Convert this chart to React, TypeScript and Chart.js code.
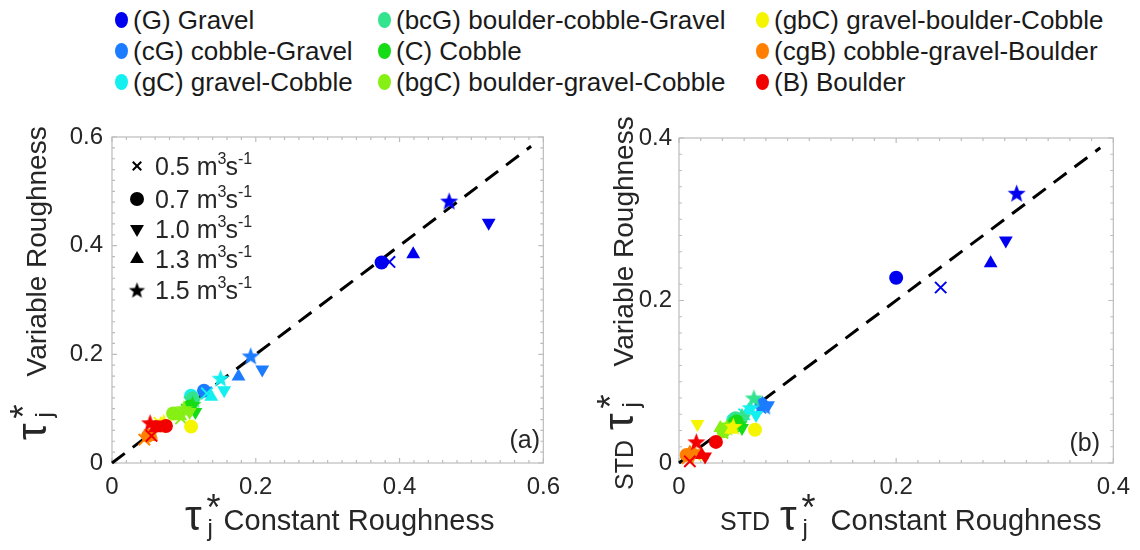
import React, { useEffect, useRef } from 'react';
import { Chart, registerables } from 'chart.js';
import { drawPoint } from 'chart.js/helpers';

Chart.register(...registerables);

const FONT = "'Liberation Sans', Arial, Helvetica, sans-serif";
const TEXT = '#262626';

// Bed material classes (legend order) and their colours
const categories = [
  '(G) Gravel',
  '(cG) cobble-Gravel',
  '(gC) gravel-Cobble',
  '(bcG) boulder-cobble-Gravel',
  '(C) Cobble',
  '(bgC) boulder-gravel-Cobble',
  '(gbC) gravel-boulder-Cobble',
  '(cgB) cobble-gravel-Boulder',
  '(B) Boulder',
];
const categoryColors = ['#0000f0', '#1c7cff', '#14f0f0', '#33e38e', '#16dc16', '#86f014', '#f5f500', '#ff8000', '#f20000'];

// Discharges; one marker per discharge: ×, ●, ▼, ▲, ★
const flowRates = ['0.5', '0.7', '1.0', '1.3', '1.5'];

// (a) mean τ*_j — constant roughness (x) vs variable roughness (y); rows = categories, cols = flow rates
const meanConstant = [
  [0.386, 0.375, 0.524, 0.419, 0.469],
  [0.131, 0.128, 0.209, 0.176, 0.193],
  [0.132, 0.110, 0.156, 0.138, 0.151],
  [0.108, 0.112, 0.113, 0.105, 0.114],
  [0.104, 0.108, 0.116, 0.106, 0.112],
  [0.096, 0.085, 0.108, 0.095, 0.100],
  [0.066, 0.110, 0.070, 0.068, 0.072],
  [0.045, 0.050, 0.055, 0.052, 0.056],
  [0.055, 0.075, 0.068, 0.060, 0.053],
];
const meanVariable = [
  [0.370, 0.369, 0.442, 0.384, 0.482],
  [0.130, 0.133, 0.172, 0.159, 0.197],
  [0.128, 0.124, 0.134, 0.122, 0.156],
  [0.112, 0.119, 0.108, 0.104, 0.116],
  [0.098, 0.104, 0.094, 0.100, 0.108],
  [0.082, 0.091, 0.094, 0.086, 0.100],
  [0.074, 0.067, 0.070, 0.072, 0.075],
  [0.043, 0.050, 0.055, 0.048, 0.058],
  [0.050, 0.068, 0.071, 0.064, 0.074],
];

// (b) standard deviation of τ*_j — constant roughness (x) vs variable roughness (y)
const stdConstant = [
  [0.241, 0.200, 0.301, 0.287, 0.311],
  [0.075, 0.076, 0.082, 0.077, 0.079],
  [0.060, 0.050, 0.071, 0.064, 0.066],
  [0.055, 0.052, 0.060, 0.058, 0.069],
  [0.050, 0.053, 0.058, 0.047, 0.055],
  [0.040, 0.041, 0.045, 0.038, 0.044],
  [0.015, 0.070, 0.017, 0.048, 0.050],
  [0.008, 0.007, 0.012, 0.010, 0.014],
  [0.010, 0.034, 0.024, 0.021, 0.016],
];
const stdVariable = [
  [0.216, 0.228, 0.274, 0.246, 0.332],
  [0.068, 0.072, 0.071, 0.073, 0.070],
  [0.060, 0.053, 0.059, 0.065, 0.068],
  [0.050, 0.055, 0.055, 0.058, 0.080],
  [0.045, 0.051, 0.043, 0.047, 0.048],
  [0.037, 0.039, 0.045, 0.043, 0.044],
  [0.010, 0.041, 0.048, 0.041, 0.045],
  [0.006, 0.010, 0.008, 0.013, 0.014],
  [0.002, 0.026, 0.008, 0.010, 0.026],
];

// Axis limits and 1:1 reference line extent
const axisMaxA = 0.6;
const axisMaxB = 0.4;
const lineEndA = 0.583;
const lineEndB = 0.388;
const majorStep = 0.2;
const minorStep = 0.02;

function makeStar(color: string, outer = 9.5, inner = 4): HTMLCanvasElement {
  const size = Math.ceil(outer * 2 + 2);
  const c = document.createElement('canvas');
  c.width = size;
  c.height = size;
  const g = c.getContext('2d')!;
  g.fillStyle = color;
  g.beginPath();
  for (let k = 0; k < 10; k++) {
    const r = k % 2 === 0 ? outer : inner;
    const a = -Math.PI / 2 + (k * Math.PI) / 5;
    const px = size / 2 + r * Math.cos(a);
    const py = size / 2 + r * Math.sin(a) + 0.8;
    if (k === 0) g.moveTo(px, py);
    else g.lineTo(px, py);
  }
  g.closePath();
  g.fill();
  return c;
}

const markerRadius = [8, 7, 8, 8, 10];
const markerRotation = [0, 0, 180, 0, 0];
const markerBorder = [2, 0, 0, 0, 0];

function drawTauTitle(
  ctx: CanvasRenderingContext2D,
  x: number,
  y: number,
  rotated: boolean,
  prefix: string,
  suffix: string,
  extraGap: number,
  suffixSize: number,
) {
  ctx.save();
  ctx.translate(x, y);
  if (rotated) ctx.rotate(-Math.PI / 2);
  ctx.fillStyle = TEXT;
  ctx.textAlign = 'left';
  ctx.textBaseline = 'alphabetic';
  let u = 0;
  if (prefix) {
    ctx.font = `25px ${FONT}`;
    ctx.fillText(prefix, 0, 0);
    u += ctx.measureText(prefix).width + 10;
  }
  ctx.font = `42px ${FONT}`;
  ctx.fillText('τ', u, 0);
  u += ctx.measureText('τ').width + 5;
  ctx.font = `36px ${FONT}`;
  ctx.fillText('*', u, -10);
  ctx.font = `24px ${FONT}`;
  ctx.fillText('j', u + 1, 6);
  u += 17 + extraGap;
  ctx.font = `${suffixSize}px ${FONT}`;
  ctx.fillText(suffix, u, 0);
  ctx.restore();
}

interface TitleSpec {
  x: number;
  y: number;
  prefix: string;
  gap: number;
  size: number;
}

interface PanelSpec {
  xs: number[][];
  ys: number[][];
  max: number;
  lineEnd: number;
  area: { left: number; right: number; top: number; bottom: number };
  width: number;
  height: number;
  yLabelPad: number;
  tag: string;
  tagX: number;
  tagY: number;
  xTitle: TitleSpec;
  yTitle: TitleSpec;
  flowLegend: boolean;
  stars: HTMLCanvasElement[];
  blackStar: HTMLCanvasElement;
}

function buildConfig(p: PanelSpec): any {
  const tickFmt = (v: number | string) => {
    const n = Number(v);
    return Math.abs(n) < 1e-9 ? '0' : n.toFixed(1);
  };

  const datasets: any[] = categories.map((name, i) => ({
    type: 'scatter',
    label: name,
    data: p.xs[i].map((x, k) => ({ x, y: p.ys[i][k] })),
    pointStyle: ['crossRot', 'circle', 'triangle', 'triangle', p.stars[i]],
    pointRotation: markerRotation,
    pointRadius: markerRadius,
    pointBorderWidth: markerBorder,
    pointBackgroundColor: categoryColors[i],
    pointBorderColor: categoryColors[i],
    order: categories.length - i,
    clip: false,
  }));

  datasets.push({
    type: 'line',
    label: '1:1',
    data: [
      { x: 0, y: 0 },
      { x: p.lineEnd, y: p.lineEnd },
    ],
    borderColor: '#000000',
    borderWidth: 3,
    borderDash: [16, 10],
    pointRadius: 0,
    showLine: true,
    fill: false,
    order: 100,
    clip: false,
  });

  const framePlugin = {
    id: 'frame',
    beforeDatasetsDraw(chart: any) {
      const { ctx, chartArea } = chart;
      const { left, right, top, bottom } = chartArea;
      const sx = chart.scales.x;
      const sy = chart.scales.y;
      ctx.save();
      ctx.strokeStyle = '#bcbcbc';
      ctx.lineWidth = 1.2;
      ctx.strokeRect(left, top, right - left, bottom - top);
      ctx.beginPath();
      const n = Math.round(p.max / minorStep);
      for (let k = 0; k <= n; k++) {
        const v = k * minorStep;
        const major = k % Math.round(majorStep / minorStep) === 0;
        const len = major ? 5 : 3;
        const px = sx.getPixelForValue(v);
        ctx.moveTo(px, bottom);
        ctx.lineTo(px, bottom - len);
        ctx.moveTo(px, top);
        ctx.lineTo(px, top + len);
        const py = sy.getPixelForValue(v);
        ctx.moveTo(left, py);
        ctx.lineTo(left + len, py);
        ctx.moveTo(right, py);
        ctx.lineTo(right - len, py);
      }
      ctx.stroke();
      ctx.restore();
    },
    afterDraw(chart: any) {
      const ctx: CanvasRenderingContext2D = chart.ctx;
      drawTauTitle(ctx, p.xTitle.x, p.xTitle.y, false, p.xTitle.prefix, 'Constant Roughness', p.xTitle.gap, p.xTitle.size);
      drawTauTitle(ctx, p.yTitle.x, p.yTitle.y, true, p.yTitle.prefix, 'Variable Roughness', p.yTitle.gap, p.yTitle.size);

      ctx.save();
      ctx.fillStyle = TEXT;
      ctx.font = `25px ${FONT}`;
      ctx.textAlign = 'right';
      ctx.textBaseline = 'alphabetic';
      ctx.fillText(p.tag, p.tagX, p.tagY);
      ctx.restore();

      if (p.flowLegend) {
        const rowY = [66, 99, 129, 159, 190];
        const mx = 137;
        flowRates.forEach((q, k) => {
          const cy = rowY[k];
          ctx.save();
          ctx.fillStyle = '#000000';
          ctx.strokeStyle = '#000000';
          ctx.lineWidth = markerBorder[k];
          if (k === 4) {
            ctx.drawImage(p.blackStar, mx - p.blackStar.width / 2, cy - p.blackStar.height / 2);
          } else {
            drawPoint(
              ctx,
              {
                pointStyle: ['crossRot', 'circle', 'triangle', 'triangle'][k] as any,
                rotation: markerRotation[k],
                radius: k === 0 ? 6 : markerRadius[k],
                borderWidth: k === 0 ? 2 : 0,
              } as any,
              mx,
              cy,
            );
          }
          ctx.fillStyle = TEXT;
          ctx.textAlign = 'left';
          ctx.textBaseline = 'alphabetic';
          const base = cy + 9;
          let u = 155;
          ctx.font = `25px ${FONT}`;
          const t1 = q + ' m';
          ctx.fillText(t1, u, base);
          u += ctx.measureText(t1).width;
          ctx.font = `16px ${FONT}`;
          ctx.fillText('3', u, base - 11);
          u += ctx.measureText('3').width - 1;
          ctx.font = `25px ${FONT}`;
          ctx.fillText('s', u, base);
          u += ctx.measureText('s').width;
          ctx.font = `16px ${FONT}`;
          ctx.fillText('-1', u, base - 11);
          ctx.restore();
        });
      }
    },
  };

  return {
    type: 'scatter',
    data: { datasets },
    options: {
      responsive: false,
      animation: false,
      events: [],
      layout: {
        padding: { left: 0, top: p.area.top, right: p.width - p.area.right, bottom: 0 },
      },
      plugins: { legend: { display: false }, tooltip: { enabled: false } },
      scales: {
        x: {
          type: 'linear',
          min: 0,
          max: p.max,
          grid: { display: false, drawTicks: false },
          border: { display: false },
          ticks: {
            stepSize: majorStep,
            autoSkip: false,
            maxRotation: 0,
            padding: 10,
            color: TEXT,
            font: { family: FONT, size: 24 },
            callback: tickFmt,
          },
          afterFit: (s: any) => {
            s.height = p.height - p.area.bottom;
          },
        },
        y: {
          type: 'linear',
          min: 0,
          max: p.max,
          grid: { display: false, drawTicks: false },
          border: { display: false },
          ticks: {
            stepSize: majorStep,
            autoSkip: false,
            padding: p.yLabelPad,
            color: TEXT,
            font: { family: FONT, size: 24 },
            callback: tickFmt,
          },
          afterFit: (s: any) => {
            s.width = p.area.left;
          },
        },
      },
    },
    plugins: [framePlugin],
  };
}

export default function App() {
  const refA = useRef<HTMLCanvasElement>(null);
  const refB = useRef<HTMLCanvasElement>(null);

  useEffect(() => {
    document.body.style.margin = '0';
    const stars = categoryColors.map((c) => makeStar(c));
    const blackStar = makeStar('#000000', 8.5, 3.6);
    const chartA = new Chart(
      refA.current!,
      buildConfig({
        xs: meanConstant,
        ys: meanVariable,
        max: axisMaxA,
        lineEnd: lineEndA,
        area: { left: 112, right: 547, top: 37, bottom: 363 },
        width: 570,
        height: 450,
        yLabelPad: 9,
        tag: '(a)',
        tagX: 540,
        tagY: 348,
        xTitle: { x: 185, y: 430, prefix: '', gap: 0, size: 29 },
        yTitle: { x: 46, y: 340, prefix: '', gap: 25, size: 28 },
        flowLegend: true,
        stars,
        blackStar,
      }),
    );
    const chartB = new Chart(
      refB.current!,
      buildConfig({
        xs: stdConstant,
        ys: stdVariable,
        max: axisMaxB,
        lineEnd: lineEndB,
        area: { left: 109, right: 545, top: 38, bottom: 363 },
        width: 570,
        height: 450,
        yLabelPad: 7,
        tag: '(b)',
        tagX: 530,
        tagY: 351,
        xTitle: { x: 150, y: 430, prefix: 'STD', gap: 12, size: 29 },
        yTitle: { x: 63, y: 390, prefix: 'STD', gap: 25, size: 28 },
        flowLegend: false,
        stars,
        blackStar,
      }),
    );
    return () => {
      chartA.destroy();
      chartB.destroy();
    };
  }, []);

  const colX = [122, 385, 763];
  const rowY = [20, 51, 82];

  return (
    <div style={{ position: 'relative', width: 1140, height: 550, background: '#ffffff', fontFamily: FONT, overflow: 'hidden' }}>
      {categories.map((name, i) => {
        const col = Math.floor(i / 3);
        const row = i % 3;
        return (
          <div
            key={name}
            style={{
              position: 'absolute',
              left: colX[col] - 7,
              top: rowY[row] - 16,
              height: 32,
              display: 'flex',
              alignItems: 'center',
              whiteSpace: 'nowrap',
            }}
          >
            <span
              style={{
                display: 'inline-block',
                width: 13,
                height: 16,
                borderRadius: '50%',
                background: categoryColors[i],
                marginRight: 5,
              }}
            />
            <span style={{ fontSize: 26, color: '#1a1a1a', lineHeight: '32px' }}>{name}</span>
          </div>
        );
      })}
      <div style={{ position: 'absolute', left: 0, top: 100, width: 570, height: 450 }}>
        <canvas ref={refA} width={570} height={450} />
      </div>
      <div style={{ position: 'absolute', left: 570, top: 100, width: 570, height: 450 }}>
        <canvas ref={refB} width={570} height={450} />
      </div>
    </div>
  );
}
